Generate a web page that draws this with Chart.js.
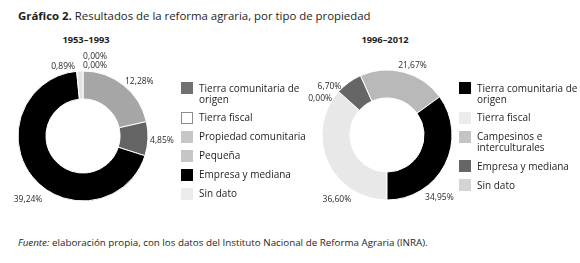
<!DOCTYPE html>
<html>
<head>
<meta charset="utf-8">
<script src="https://cdn.jsdelivr.net/npm/chart.js"></script>
<style>
  body { margin: 0; width: 580px; height: 263px; background: #fff; position: relative; overflow: hidden; font-family: "Open Sans", sans-serif; color: #1e1e1e; }
  .t { position: absolute; white-space: nowrap; line-height: 1; }
  #titulo { left: 18px; top: 10px; font-size: 11.4px; }
  .sub { font-weight: bold; font-size: 9.3px; top: 35px; transform: translateX(-50%); }
  #fuente { left: 18px; top: 238px; font-size: 9.8px; }
  canvas { position: absolute; }
  #g1 { left: 0px; top: 36px; }
  #g2 { left: 290px; top: 35px; }
  .ley { position: absolute; top: 82px; margin: 0; padding: 0; list-style: none; font-size: 10px; line-height: 11px; }
  .ley li { display: flex; align-items: flex-start; margin-bottom: 7px; white-space: nowrap; }
  .ley .caja { width: 12px; height: 12px; flex: none; box-sizing: border-box; }
  .ley .txt { margin-left: 6px; padding-top: 0.5px; }
  #l1 { left: 181px; }
  #l2 { left: 459px; }
</style>
</head>
<body>
<div class="t" id="titulo"><b>Gráfico 2.</b> Resultados de la reforma agraria, por tipo de propiedad</div>
<div class="t sub" style="left:86px">1953–1993</div>
<div class="t sub" style="left:385px">1996–2012</div>
<canvas id="g1" width="200" height="200"></canvas>
<canvas id="g2" width="200" height="200"></canvas>
<ul class="ley" id="l1"></ul>
<ul class="ley" id="l2"></ul>
<div class="t" id="fuente"><i>Fuente:</i> elaboración propia, con los datos del Instituto Nacional de Reforma Agraria (INRA).</div>

<script>
// 1953-1993, en el orden del anillo (desde arriba, sentido horario)
const cats1 = ["Propiedad comunitaria", "Tierra comunitaria de origen", "Empresa y mediana", "Sin dato", "Tierra fiscal", "Pequeña"];
const vals1 = [12.28, 4.85, 39.24, 0.89, 0.00, 0.00];
const orden1 = ["Tierra comunitaria de origen", "Tierra fiscal", "Propiedad comunitaria", "Pequeña", "Empresa y mediana", "Sin dato"];

// 1996-2012, desde abajo en sentido horario
const cats2 = ["Tierra fiscal", "Sin dato", "Empresa y mediana", "Campesinos e interculturales", "Tierra comunitaria de origen"];
const vals2 = [36.60, 0.00, 6.70, 21.67, 34.95];
const orden2 = ["Tierra comunitaria de origen", "Tierra fiscal", "Campesinos e interculturales", "Empresa y mediana", "Sin dato"];

const colAnillo1 = ["#a6a6a6", "#646464", "#000000", "#e3e3e3", "#ffffff", "#c6c6c6"];
const colLeyenda1 = ["#c6c6c6", "#707070", "#000000", "#ebebeb", "#ffffff", "#c6c6c6"];
const colAnillo2 = ["#e8e8e8", "#9a9a9a", "#666666", "#b9b9b9", "#000000"];
const colLeyenda2 = ["#ececec", "#d4d4d4", "#666666", "#c4c4c4", "#000000"];

const cortes = {
  "Tierra comunitaria de origen": "Tierra comunitaria de<br>origen",
  "Campesinos e interculturales": "Campesinos e<br>interculturales"
};
const fmt = v => v.toFixed(2).replace(".", ",") + "%";

const etiquetas = {
  id: "etiquetas",
  afterDatasetsDraw(chart, args, opts) {
    const ctx = chart.ctx;
    const meta = chart.getDatasetMeta(0);
    const vals = chart.data.datasets[0].data;
    ctx.save();
    ctx.font = "8.5px 'Open Sans'";
    ctx.fillStyle = "#2a2a2a";
    ctx.textAlign = "center";
    ctx.textBaseline = "middle";
    meta.data.forEach((arc, i) => {
      const p = arc.getProps(["x", "y", "startAngle", "endAngle", "outerRadius"], true);
      const a = (p.startAngle + p.endAngle) / 2;
      const r = p.outerRadius + 14;
      const d = opts.nudge[i] || [0, 0];
      ctx.fillText(fmt(vals[i]), p.x + Math.cos(a) * r + d[0], p.y + Math.sin(a) * r + d[1]);
    });
    ctx.restore();
  }
};

function leyenda(chart, id, orden, colores) {
  const items = chart.options.plugins.legend.labels.generateLabels(chart);
  const ul = document.getElementById(id);
  orden.forEach(nombre => {
    const it = items.find(x => x.text === nombre);
    const li = document.createElement("li");
    const borde = colores[it.index] === "#ffffff" ? "border:1px solid #8c8c8c;" : "";
    li.innerHTML = '<span class="caja" style="background:' + colores[it.index] + ';' + borde + '"></span>' +
      '<span class="txt">' + (cortes[nombre] || nombre) + '</span>';
    ul.appendChild(li);
  });
}

function dona(id, cats, vals, anillo, rot, pad, nudge) {
  return new Chart(document.getElementById(id), {
    type: "doughnut",
    data: {
      labels: cats,
      datasets: [{
        data: vals,
        backgroundColor: anillo,
        borderColor: "#ffffff",
        borderWidth: 1
      }]
    },
    options: {
      responsive: false,
      animation: false,
      events: [],
      radius: 65,
      cutout: "57%",
      rotation: rot,
      layout: { padding: pad },
      plugins: {
        tooltip: { enabled: false },
        legend: { display: false },
        etiquetas: { nudge: nudge }
      }
    },
    plugins: [etiquetas]
  });
}

const g1 = dona("g1", cats1, vals1, colAnillo1, 0,
  { left: 0, right: 34, top: 0, bottom: 0 },
  [[7, 7], [0, 1.5], [6.5, 13.5], [-16, 9], [12, 0], [12, 9]]);
const g2 = dona("g2", cats2, vals2, colAnillo2, 180,
  { left: 32, right: 38, top: 0, bottom: 0 },
  [[22, 32], [-8, 16], [-11, 15], [5, 7], [-18, 27]]);

leyenda(g1, "l1", orden1, colLeyenda1);
leyenda(g2, "l2", orden2, colLeyenda2);
</script>
</body>
</html>
